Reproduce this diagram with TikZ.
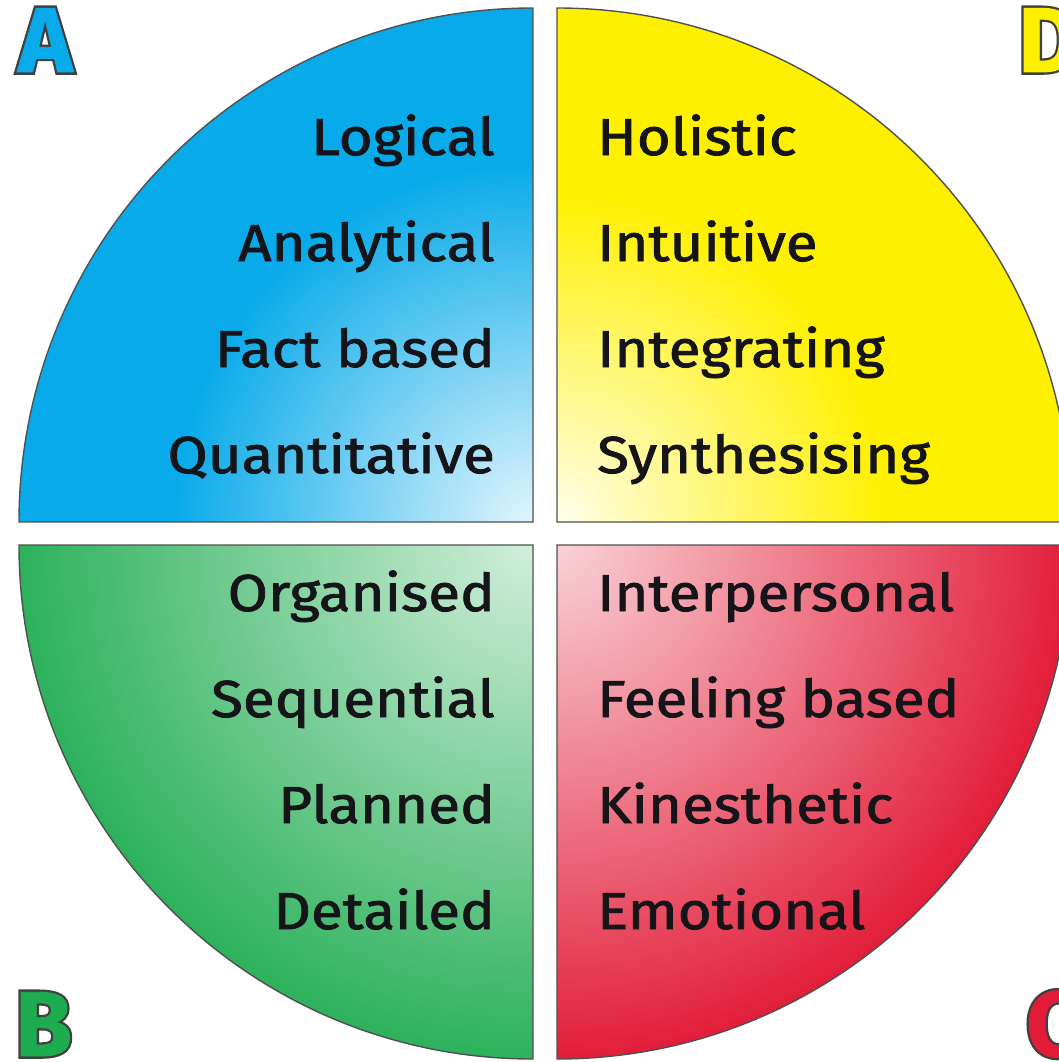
\documentclass[tikz,border=0pt]{standalone}
\usepackage{fontspec}
\newfontfamily\lblfont{Fira Sans}[FakeBold=1.6,FakeStretch=1.12]
\newfontfamily\letterout{Fira Sans}[FakeBold=6]
\newfontfamily\letterin{Fira Sans}[FakeBold=1]
\definecolor{qblue}{RGB}{8,170,233}
\definecolor{qyellow}{RGB}{255,240,0}
\definecolor{qgreen}{RGB}{30,172,80}
\definecolor{qred}{RGB}{226,28,56}
\definecolor{edge}{RGB}{80,80,80}
\definecolor{txt}{RGB}{20,20,25}
\tikzset{
  quad/.style={draw=edge, line width=1.4pt, line join=miter},
  lbl/.style={font=\lblfont\fontsize{52}{54}\selectfont, text=txt, inner sep=0pt},
  lblL/.style={lbl, anchor=base east},
  lblR/.style={lbl, anchor=base west},
  letO/.style={font=\letterout\bfseries\fontsize{92}{92}\selectfont, text=edge!80!black, inner sep=0pt, anchor=base west},
  letI/.style={font=\letterin\bfseries\fontsize{92}{92}\selectfont, inner sep=0pt, anchor=base west}
}
\begin{document}
\begin{tikzpicture}[x=1pt,y=1pt]
\useasboundingbox (0,0) rectangle (1059,-1062);
\clip (0,0) rectangle (1059,-1062);
% A quadrant
\begin{scope}
\clip (533,-522) -- (533,-8) arc[start angle=90,end angle=180,radius=514] -- cycle;
\fill[qblue] (0,0) rectangle (533,-522);
\shade[inner color=qblue!12!white, outer color=qblue] (533,-522) circle (360);
\end{scope}
\path[quad] (533,-522) -- (533,-8) arc[start angle=90,end angle=180,radius=514] -- cycle;
% D quadrant
\begin{scope}
\clip (557,-522) -- (1071,-522) arc[start angle=0,end angle=90,radius=514] -- cycle;
\fill[qyellow] (557,0) rectangle (1071,-522);
\shade[inner color=qyellow!8!white, outer color=qyellow] (557,-522) circle (330);
\end{scope}
\path[quad] (557,-522) -- (1071,-522) arc[start angle=0,end angle=90,radius=514] -- cycle;
% B quadrant
\begin{scope}
\clip (533,-545) -- (19,-545) arc[start angle=180,end angle=270,radius=514] -- cycle;
\fill[qgreen] (0,-545) rectangle (533,-1062);
\shade[inner color=qgreen!20!white, outer color=qgreen] (533,-545) circle (560);
\end{scope}
\path[quad] (533,-545) -- (19,-545) arc[start angle=180,end angle=270,radius=514] -- cycle;
% C quadrant
\begin{scope}
\clip (557,-545) -- (557,-1059) arc[start angle=270,end angle=360,radius=514] -- cycle;
\fill[qred] (557,-545) rectangle (1071,-1062);
\shade[inner color=qred!20!white, outer color=qred] (557,-545) circle (520);
\end{scope}
\path[quad] (557,-545) -- (557,-1059) arc[start angle=270,end angle=360,radius=514] -- cycle;
% labels A
\node[lblL] (a1) at (495,-155) {Logical};
\node[lblL] (a2) at (495,-261) {Analytical};
\node[lblL] (a3) at (495,-367) {Fact based};
\node[lblL] (a4) at (495,-473) {Quantitative};
% labels D
\node[lblR] (d1) at (597,-155) {Holistic};
\node[lblR] (d2) at (597,-261) {Intuitive};
\node[lblR] (d3) at (597,-367) {Integrating};
\node[lblR] (d4) at (597,-473) {Synthesising};
% labels B
\node[lblL] (b1) at (495,-611) {Organised};
\node[lblL] (b2) at (495,-717) {Sequential};
\node[lblL] (b3) at (495,-823) {Planned};
\node[lblL] (b4) at (495,-929) {Detailed};
% labels C
\node[lblR] (c1) at (597,-611) {Interpersonal};
\node[lblR] (c2) at (597,-717) {Feeling based};
\node[lblR] (c3) at (597,-823) {Kinesthetic};
\node[lblR] (c4) at (597,-929) {Emotional};
% corner letters
\node[letO] (LAo) at (18,-72) {A};
\node[letI, text=qblue] (LA) at (18,-72) {A};
\node[letO] (LDo) at (1018,-72) {D};
\node[letI, text=qyellow] (LD) at (1018,-72) {D};
\node[letO] (LBo) at (15,-1056) {B};
\node[letI, text=qgreen] (LB) at (15,-1056) {B};
\node[letO] (LCo) at (1026,-1056) {C};
\node[letI, text=qred] (LC) at (1026,-1056) {C};
\end{tikzpicture}
\end{document}
